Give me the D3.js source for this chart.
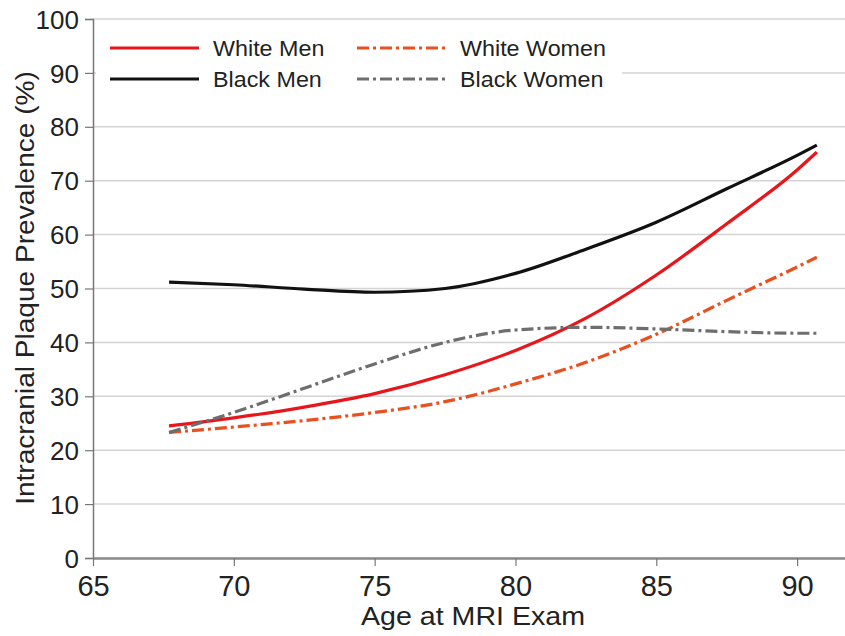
<!DOCTYPE html>
<html><head><meta charset="utf-8">
<script src="https://cdn.jsdelivr.net/npm/d3@7"></script>
<style>body{margin:0;background:#fff}svg{display:block}text{font-family:"Liberation Sans",Arial,sans-serif}</style>
</head><body><svg id="c" width="845" height="636"></svg>
<script>
const ages = [67.7, 70, 72.5, 75, 77.5, 80, 82.5, 85, 87.5, 90, 90.7];
const whiteMen   = [24.5, 26.0, 28.0, 30.5, 34.0, 38.5, 44.5, 52.5, 62.0, 72.0, 75.3];
const blackMen   = [51.2, 50.7, 49.9, 49.3, 50.0, 52.8, 57.3, 62.3, 68.5, 74.7, 76.6];
const whiteWomen = [23.3, 24.3, 25.5, 27.0, 29.0, 32.3, 36.3, 41.5, 47.8, 54.0, 55.8];
const blackWomen = [23.3, 27.0, 31.5, 36.0, 40.0, 42.3, 42.8, 42.5, 42.0, 41.7, 41.7];
const xTicks = [65, 70, 75, 80, 85, 90];
const yTicks = [0, 10, 20, 30, 40, 50, 60, 70, 80, 90, 100];

const series = [
  {name: "White Men", values: whiteMen, color: "#e8161b", dash: null},
  {name: "Black Men", values: blackMen, color: "#111111", dash: null},
  {name: "White Women", values: whiteWomen, color: "#ea4f1e", dash: "12,4,3,4"},
  {name: "Black Women", values: blackWomen, color: "#6e6e6e", dash: "12,4,3,4"}
];

const svg = d3.select("#c");
const x = d3.scaleLinear().domain([65, 91.7]).range([93, 845]);
const y = d3.scaleLinear().domain([0, 100]).range([558, 19]);

// gridlines
svg.append("g").selectAll("line").data(yTicks.filter(d => d > 0)).join("line")
  .attr("x1", 93).attr("x2", 845).attr("y1", d => y(d)).attr("y2", d => y(d))
  .attr("stroke", "#d4d4d4").attr("stroke-width", 1.5);

// y axis
const yAx = svg.append("g").attr("transform", "translate(93,0)")
  .call(d3.axisLeft(y).tickValues(yTicks).tickSize(8).tickPadding(6));
yAx.select(".domain").attr("stroke", "#777").attr("stroke-width", 1.5);
yAx.selectAll(".tick line").attr("stroke", "#777").attr("stroke-width", 1.2);
yAx.selectAll("text").attr("font-size", 26).attr("fill", "#222").attr("dy", "0.35em");

// x axis
const xAx = svg.append("g").attr("transform", "translate(0,558)")
  .call(d3.axisBottom(x).tickValues(xTicks).tickSize(8).tickPadding(9).tickSizeOuter(0));
xAx.select(".domain").attr("stroke", "#888").attr("stroke-width", 2.5);
xAx.selectAll(".tick line").attr("stroke", "#777").attr("stroke-width", 1.2);
xAx.selectAll("text").attr("font-size", 29).attr("fill", "#222");

// lines
const line = d3.line().x((d, i) => x(ages[i])).y(d => y(d)).curve(d3.curveMonotoneX);
svg.append("g").selectAll("path").data([series[1], series[0], series[2], series[3]]).join("path")
  .attr("d", s => line(s.values)).attr("fill", "none")
  .attr("stroke", s => s.color).attr("stroke-width", 3.2)
  .attr("stroke-dasharray", s => s.dash);

// legend
const lg = svg.append("g");
lg.append("rect").attr("x", 96).attr("y", 30).attr("width", 526).attr("height", 68).attr("fill", "#fff");
const pos = [[110, 48], [110, 79], [357, 48], [357, 79]];
series.forEach((s, i) => {
  const [lx, ly] = pos[i];
  lg.append("line").attr("x1", lx).attr("x2", lx + 89).attr("y1", ly).attr("y2", ly)
    .attr("stroke", s.color).attr("stroke-width", 3.2).attr("stroke-dasharray", s.dash);
  lg.append("text").attr("transform", `translate(${lx + 103},${ly + 8}) scale(1.06,1)`)
    .attr("font-size", 22).attr("fill", "#222").text(s.name);
});

// titles
svg.append("text").attr("transform", "translate(473,625) scale(1.1,1)").attr("text-anchor", "middle")
  .attr("font-size", 26).attr("fill", "#222").text("Age at MRI Exam");
svg.append("text").attr("transform", "translate(34,288) rotate(-90) scale(1.08,1)").attr("text-anchor", "middle")
  .attr("font-size", 26).attr("fill", "#222").text("Intracranial Plaque Prevalence (%)");
</script></body></html>
